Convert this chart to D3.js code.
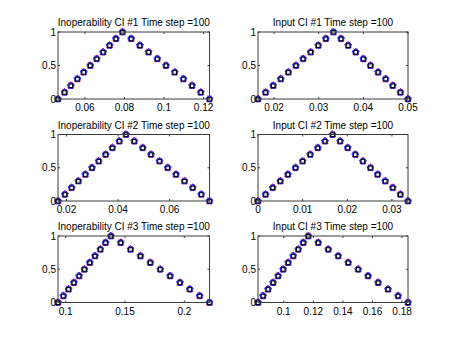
<!DOCTYPE html>
<html>
<head>
<meta charset="utf-8">
<script src="https://d3js.org/d3.v7.min.js"></script>
<style>
  body { margin: 0; background: #fff; }
  svg text { font-family: "Liberation Sans", Helvetica, Arial, sans-serif; font-size: 10px; fill: #000; }
</style>
</head>
<body>
<svg id="fig" width="453" height="341"></svg>
<script>
// membership levels (left side rising, right side falling)
const alphaLevels = [0, 0.1, 0.2, 0.3, 0.4, 0.5, 0.6, 0.7, 0.8, 0.9, 1,
                     0.9, 0.8, 0.7, 0.6, 0.5, 0.4, 0.3, 0.2, 0.1, 0];

const titles = [
  "Inoperability CI #1 Time step =100", "Input CI #1 Time step =100",
  "Inoperability CI #2 Time step =100", "Input CI #2 Time step =100",
  "Inoperability CI #3 Time step =100", "Input CI #3 Time step =100"
];

const inop1 = [0.0464, 0.0497, 0.0529, 0.0562, 0.0594, 0.0627, 0.0660, 0.0692, 0.0725, 0.0757, 0.0790,
               0.0834, 0.0878, 0.0922, 0.0966, 0.1010, 0.1054, 0.1098, 0.1142, 0.1186, 0.1230];
const input1 = [0.0164, 0.0181, 0.0198, 0.0215, 0.0232, 0.0249, 0.0265, 0.0282, 0.0299, 0.0316, 0.0333,
                0.0350, 0.0366, 0.0383, 0.0400, 0.0416, 0.0433, 0.0450, 0.0466, 0.0483, 0.0500];
const inop2 = [0.0167, 0.0194, 0.0220, 0.0246, 0.0273, 0.0299, 0.0325, 0.0352, 0.0378, 0.0405, 0.0431,
               0.0463, 0.0496, 0.0528, 0.0561, 0.0593, 0.0625, 0.0658, 0.0690, 0.0723, 0.0755];
const input2 = [0, 0.0017, 0.0033, 0.0050, 0.0067, 0.0084, 0.0100, 0.0117, 0.0134, 0.0150, 0.0167,
                0.0184, 0.0201, 0.0218, 0.0235, 0.0252, 0.0268, 0.0285, 0.0302, 0.0319, 0.0336];
const inop3 = [0.0935, 0.0980, 0.1024, 0.1069, 0.1113, 0.1158, 0.1203, 0.1247, 0.1292, 0.1336, 0.1381,
               0.1464, 0.1547, 0.1630, 0.1713, 0.1797, 0.1880, 0.1963, 0.2046, 0.2129, 0.2212];
const input3 = [0.0826, 0.0860, 0.0894, 0.0928, 0.0962, 0.0996, 0.1030, 0.1064, 0.1098, 0.1132, 0.1166,
                0.1233, 0.1301, 0.1368, 0.1436, 0.1503, 0.1570, 0.1638, 0.1705, 0.1773, 0.1840];

const xTicks = [
  [0.06, 0.08, 0.1, 0.12], [0.02, 0.03, 0.04, 0.05],
  [0.02, 0.04, 0.06], [0, 0.01, 0.02, 0.03],
  [0.1, 0.15, 0.2], [0.1, 0.12, 0.14, 0.16, 0.18]
];
const yTicks = [0, 0.5, 1];

const seriesX = [inop1, input1, inop2, input2, inop3, input3];

// subplot grid (3 rows x 2 cols)
const colX = [[58, 209.5], [258, 408]];
const rowY = [[32, 99], [134.5, 201], [236, 302.5]];
const axisColor = "#3a3a3a";
const tickLen = 2;

const svg = d3.select("#fig");
const fmt = v => String(+v.toFixed(4));

// regular pentagon, point up
const pentagon = r => d3.range(5).map(k => {
  const a = -Math.PI / 2 + k * 2 * Math.PI / 5;
  return [r * Math.cos(a), r * Math.sin(a)];
});

seriesX.forEach((xs, i) => {
  const [x0, x1] = colX[i % 2];
  const [y0, y1] = rowY[Math.floor(i / 2)];
  const x = d3.scaleLinear().domain(d3.extent(xs)).range([x0, x1]);
  const y = d3.scaleLinear().domain([0, 1]).range([y1, y0]);
  const g = svg.append("g");

  const pts = xs.map((v, k) => [x(v), y(alphaLevels[k])]);
  const m = g.append("g").selectAll("g").data(pts).join("g")
    .attr("transform", d => `translate(${d[0]},${d[1]})`);
  // red asterisk
  m.append("path")
    .attr("d", "M-3.4,2.2H3.4M-1.9,-3.4L1.9,3.2M-1.9,3.2L1.9,-3.4M0,-4V3")
    .attr("stroke", "#ff1010").attr("stroke-width", 0.9).attr("fill", "none");
  // blue pentagram blob
  m.append("polygon")
    .attr("points", pentagon(3.6).join(" "))
    .attr("fill", "#3434ff").attr("stroke", "#2020ee").attr("stroke-width", 0.8);
  // black square
  m.append("rect")
    .attr("x", -1.8).attr("y", -1.6).attr("width", 3.6).attr("height", 3.6)
    .attr("fill", "#f0f0f0").attr("stroke", "#000").attr("stroke-width", 1);

  // box
  g.append("rect")
    .attr("x", x0).attr("y", y0).attr("width", x1 - x0).attr("height", y1 - y0)
    .attr("fill", "none").attr("stroke", axisColor).attr("stroke-width", 1);

  // x ticks (inward, top and bottom)
  xTicks[i].forEach(t => {
    const px = x(t);
    g.append("line").attr("x1", px).attr("x2", px).attr("y1", y1).attr("y2", y1 - tickLen)
      .attr("stroke", axisColor);
    g.append("line").attr("x1", px).attr("x2", px).attr("y1", y0).attr("y2", y0 + tickLen)
      .attr("stroke", axisColor);
    g.append("text").attr("x", px).attr("y", y1 + 12)
      .attr("text-anchor", "middle").text(fmt(t));
  });

  // y ticks
  yTicks.forEach(t => {
    const py = y(t);
    g.append("line").attr("x1", x0).attr("x2", x0 + tickLen).attr("y1", py).attr("y2", py)
      .attr("stroke", axisColor);
    g.append("line").attr("x1", x1).attr("x2", x1 - tickLen).attr("y1", py).attr("y2", py)
      .attr("stroke", axisColor);
    g.append("text").attr("x", x0 - 2).attr("y", py + 3.5)
      .attr("text-anchor", "end").text(fmt(t));
  });

  g.append("text").attr("x", (x0 + x1) / 2).attr("y", y0 - 6)
    .attr("text-anchor", "middle").text(titles[i]);
});
</script>
</body>
</html>
